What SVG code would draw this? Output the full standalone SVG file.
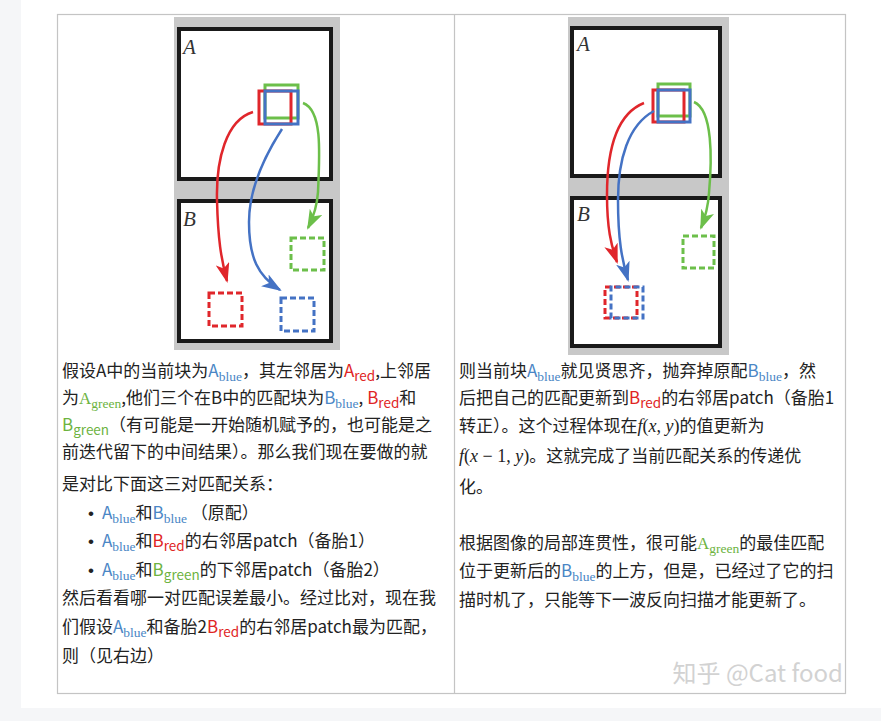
<svg xmlns="http://www.w3.org/2000/svg" width="881" height="721" viewBox="0 0 881 721">
<style>
.t{font-family:"Noto Sans CJK SC","Noto Sans",sans-serif;font-size:17px;fill:#222}
.sub{font-size:13.5px}
.ser{font-family:"Liberation Serif",serif}
.b{fill:#4a86c5}.r{fill:#e02424}.g{fill:#6db33f}
.m{font-family:"Liberation Serif",serif;font-style:italic;font-size:18px}
.mn{font-family:"Liberation Serif",serif;font-size:18px}
.bul{font-family:"Liberation Sans",sans-serif;font-size:17px;fill:#222}
.frame{fill:#fff;stroke:#1a1a1a;stroke-width:4}
.bg{fill:#c8c8c8}
.lab{font-family:"Liberation Serif",serif;font-style:italic;font-size:21px;fill:#333}
.sq{fill:none;stroke-width:3}
.dsq{fill:none;stroke-width:3;stroke-dasharray:6 3}
.cur{fill:none;stroke-width:2.5}
.sr{stroke:#e0262b}.sb{stroke:#4472c4}.sg{stroke:#6cbf4a}
</style>
<defs>
<marker id="ar" viewBox="0 0 20 14" refX="18" refY="7" markerWidth="20" markerHeight="14" markerUnits="userSpaceOnUse" orient="auto"><path d="M0,0 L20,7 L0,14 L5,7 z" fill="#e0262b"/></marker>
<marker id="ab" viewBox="0 0 20 14" refX="18" refY="7" markerWidth="20" markerHeight="14" markerUnits="userSpaceOnUse" orient="auto"><path d="M0,0 L20,7 L0,14 L5,7 z" fill="#4472c4"/></marker>
<marker id="ag" viewBox="0 0 20 14" refX="18" refY="7" markerWidth="20" markerHeight="14" markerUnits="userSpaceOnUse" orient="auto"><path d="M0,0 L20,7 L0,14 L5,7 z" fill="#6cbf4a"/></marker>
</defs>
<rect width="881" height="721" fill="#fff"/>
<rect x="0" y="0" width="21" height="721" fill="#f5f6f8"/>
<rect x="0" y="708" width="881" height="13" fill="#f5f6f8"/>

<g id="table">
<rect x="57.5" y="14.5" width="788" height="679" fill="none" stroke="#c4c4c4" stroke-width="1.2"/>
<line x1="454.5" y1="14.5" x2="454.5" y2="693.5" stroke="#c4c4c4" stroke-width="1.2"/>
</g>

<g id="left-figure">
<rect class="bg" x="174" y="17" width="166" height="333"/>
<rect class="frame" x="179" y="29" width="152" height="150"/>
<rect class="frame" x="179" y="201" width="152" height="140"/>
<text class="lab" x="183" y="54">A</text>
<text class="lab" x="183" y="226">B</text>
<rect class="sq sg" x="265" y="85" width="33" height="33"/>
<rect class="sq sr" x="259" y="91" width="32" height="33"/>
<rect class="sq sb" x="265" y="91" width="33" height="33"/>
<rect class="dsq sg" x="291" y="238" width="33" height="32"/>
<rect class="dsq sr" x="209" y="293" width="33" height="33"/>
<rect class="dsq sb" x="281" y="298" width="33" height="33"/>
</g>

<g id="right-figure">
<rect class="bg" x="568" y="17" width="161" height="338"/>
<rect class="frame" x="572" y="28" width="148" height="148"/>
<rect class="frame" x="572" y="198" width="148" height="148"/>
<text class="lab" x="577" y="51">A</text>
<text class="lab" x="577" y="221">B</text>
<rect class="sq sg" x="658" y="84" width="32" height="32"/>
<rect class="sq sr" x="653" y="90" width="31" height="32"/>
<rect class="sq sb" x="658" y="90" width="32" height="32"/>
<rect class="dsq sg" x="683" y="236" width="31" height="32"/>
<rect class="dsq sr" x="605" y="287" width="32" height="31"/>
<rect class="dsq sb" x="611" y="287" width="32" height="31" style="stroke-dashoffset:4.5"/>
</g>

<g id="connectors">
<path class="cur sr" d="M253,112 C226,120 216,160 217,200 C218,240 221,258 227,281" marker-end="url(#ar)"/>
<path class="cur sb" d="M282,129 C262,160 249,190 249,222 C249,258 258,276 280,290" marker-end="url(#ab)"/>
<path class="cur sg" d="M303,103 C322,110 320,150 318,192 C317,208 313,218 308,228" marker-end="url(#ag)"/>
<path class="cur sr" d="M644,103 C616,114 607,150 607,195 C607,228 611,245 617,262" marker-end="url(#ar)"/>
<path class="cur sb" d="M654,111 C628,125 618,160 618,200 C618,240 622,260 628,280" marker-end="url(#ab)"/>
<path class="cur sg" d="M694,102 C713,110 712,160 709,193 C708,208 705,218 701,228" marker-end="url(#ag)"/>
</g>

<g id="left-text">
<text class="t" x="62" y="377">假设A中的当前块为<tspan class="b">A<tspan class="sub ser" dy="4">blue</tspan></tspan><tspan dy="-4">，其左邻居为</tspan><tspan class="r">A<tspan class="sub" dy="4">red</tspan></tspan><tspan dy="-4">,上邻居</tspan></text>
<text class="t" x="62" y="404">为<tspan class="g ser">A<tspan class="sub" dy="4">green</tspan></tspan><tspan dy="-4">,他们三个在B中的匹配块为</tspan><tspan class="b">B<tspan class="sub ser" dy="4">blue</tspan></tspan><tspan dy="-4">, </tspan><tspan class="r">B<tspan class="sub" dy="4">red</tspan></tspan><tspan dy="-4">和</tspan></text>
<text class="t" x="62" y="431"><tspan class="g">B<tspan class="sub" dy="4">green</tspan></tspan><tspan dy="-4">（有可能是一开始随机赋予的，也可能是之</tspan></text>
<text class="t" x="62" y="458">前迭代留下的中间结果）。那么我们现在要做的就</text>
<text class="t" x="62" y="490">是对比下面这三对匹配关系：</text>
<text class="bul" x="88" y="519">•</text>
<text class="t" x="102" y="519"><tspan class="b">A<tspan class="sub ser" dy="4">blue</tspan></tspan><tspan dy="-4">和</tspan><tspan class="b">B<tspan class="sub ser" dy="4">blue</tspan></tspan><tspan dy="-4"> （原配）</tspan></text>
<text class="bul" x="88" y="547">•</text>
<text class="t" x="102" y="547"><tspan class="b">A<tspan class="sub ser" dy="4">blue</tspan></tspan><tspan dy="-4">和</tspan><tspan class="r">B<tspan class="sub" dy="4">red</tspan></tspan><tspan dy="-4">的右邻居patch（备胎1）</tspan></text>
<text class="bul" x="88" y="576">•</text>
<text class="t" x="102" y="576"><tspan class="b">A<tspan class="sub ser" dy="4">blue</tspan></tspan><tspan dy="-4">和</tspan><tspan class="g">B<tspan class="sub" dy="4">green</tspan></tspan><tspan dy="-4">的下邻居patch（备胎2）</tspan></text>
<text class="t" x="62" y="604">然后看看哪一对匹配误差最小。经过比对，现在我</text>
<text class="t" x="62" y="633">们假设<tspan class="b">A<tspan class="sub ser" dy="4">blue</tspan></tspan><tspan dy="-4">和备胎2</tspan><tspan class="r">B<tspan class="sub" dy="4">red</tspan></tspan><tspan dy="-4">的右邻居patch最为匹配，</tspan></text>
<text class="t" x="62" y="662">则（见右边）</text>
</g>

<g id="right-text">
<text class="t" x="459" y="377">则当前块<tspan class="b">A<tspan class="sub ser" dy="4">blue</tspan></tspan><tspan dy="-4">就见贤思齐，抛弃掉原配</tspan><tspan class="b">B<tspan class="sub ser" dy="4">blue</tspan></tspan><tspan dy="-4">，然</tspan></text>
<text class="t" x="459" y="404">后把自己的匹配更新到<tspan class="r">B<tspan class="sub" dy="4">red</tspan></tspan><tspan dy="-4">的右邻居patch（备胎1</tspan></text>
<text class="t" x="459" y="432">转正）。这个过程体现在<tspan class="m">f</tspan><tspan class="mn">(</tspan><tspan class="m">x</tspan><tspan class="mn">, </tspan><tspan class="m">y</tspan><tspan class="mn">)</tspan>的值更新为</text>
<text class="t" x="459" y="462"><tspan class="m">f</tspan><tspan class="mn">(</tspan><tspan class="m">x</tspan><tspan class="mn"> − 1, </tspan><tspan class="m">y</tspan><tspan class="mn">)</tspan>。这就完成了当前匹配关系的传递优</text>
<text class="t" x="459" y="493">化。</text>
<text class="t" x="459" y="549">根据图像的局部连贯性，很可能<tspan class="g ser">A<tspan class="sub" dy="4">green</tspan></tspan><tspan dy="-4">的最佳匹配</tspan></text>
<text class="t" x="459" y="577">位于更新后的<tspan class="b">B<tspan class="sub ser" dy="4">blue</tspan></tspan><tspan dy="-4">的上方，但是，已经过了它的扫</tspan></text>
<text class="t" x="459" y="606">描时机了，只能等下一波反向扫描才能更新了。</text>
</g>

<g id="watermark">
<text x="843" y="682" text-anchor="end" font-family="Noto Sans CJK SC, Noto Sans, sans-serif" font-size="24" fill="#d2d2d2">知乎 @Cat food</text>
</g>
</svg>
